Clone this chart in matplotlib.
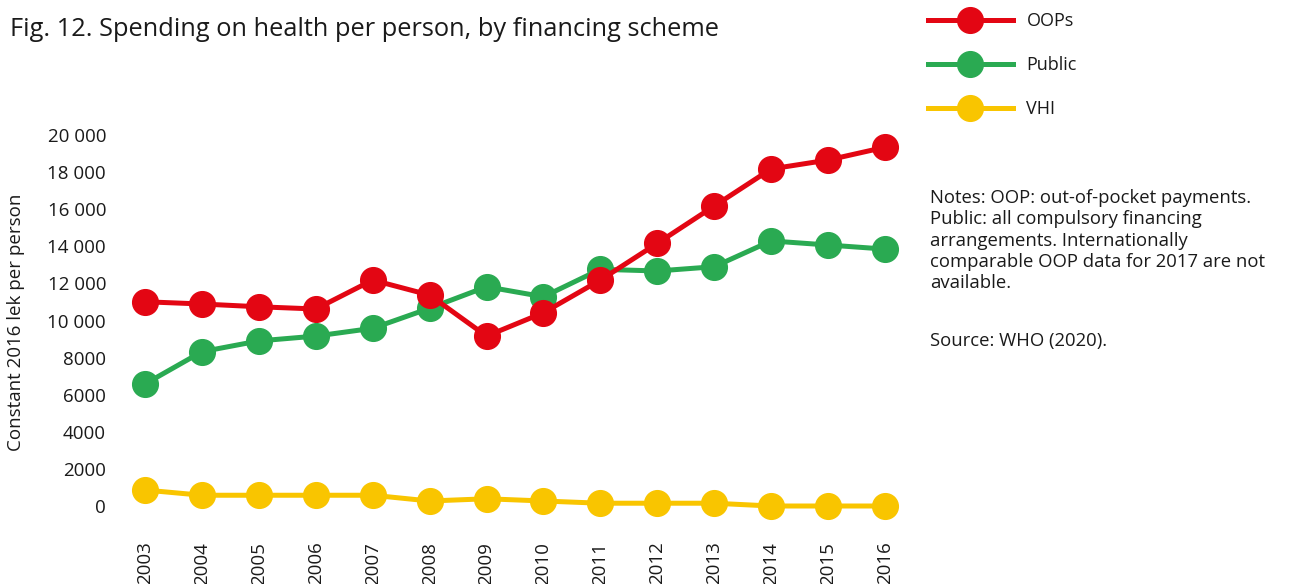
import matplotlib.pyplot as plt
from matplotlib.lines import Line2D
from matplotlib.ticker import FuncFormatter

plt.rcParams['font.family'] = ['Open Sans', 'DejaVu Sans']

years = list(range(2003, 2017))
oops = [11010, 10890, 10740, 10620, 12180, 11370, 9160, 10420, 12180, 14160, 16170, 18170, 18650, 19340]
public = [6580, 8320, 8900, 9160, 9580, 10660, 11820, 11280, 12760, 12670, 12900, 14290, 14070, 13850]
vhi = [860, 580, 580, 580, 580, 270, 390, 270, 150, 150, 150, 0, 0, 0]

series = [("OOPs", oops, "#E30613"), ("Public", public, "#2AAA52"), ("VHI", vhi, "#F9C500")]

W, H = 1292, 584
fig = plt.figure(figsize=(W / 100, H / 100), dpi=100)
ax = fig.add_axes([120 / W, 1 - 525 / H, 790 / W, 405 / H])

# draw OOPs last so its markers sit on top
for name, vals, col in [series[2], series[1], series[0]]:
    ax.plot(years, vals, color=col, lw=3.6, marker='o', ms=18.5,
            solid_joinstyle='round', label=name)

ax.set_xlim(2003 - 0.44, 2016 + 0.44)
ax.set_ylim(-1024, 20809)
ax.set_xticks(years)
ax.set_xticklabels([str(y) for y in years], rotation=90, fontsize=13.5, color='#1a1a1a')
ax.set_yticks(range(0, 20001, 2000))


def fmt(v, pos):
    v = int(v)
    return f"{v:,}".replace(",", " ") if v >= 10000 else str(v)


ax.yaxis.set_major_formatter(FuncFormatter(fmt))
ax.tick_params(axis='y', labelsize=13.5, labelcolor='#1a1a1a', length=0, pad=10)
ax.tick_params(axis='x', length=0, pad=12)
for s in ax.spines.values():
    s.set_visible(False)

fig.text(16 / W, 1 - 322 / H, "Constant 2016 lek per person", rotation=90,
         ha='center', va='center', fontsize=13.5, color='#1a1a1a')
fig.text(10 / W, 1 - 36 / H, "Fig. 12. Spending on health per person, by financing scheme",
         ha='left', va='baseline', fontsize=18.3, color='#1a1a1a')

handles = [Line2D([], [], color=c, lw=3.6, marker='o', ms=18.5) for _, _, c in series]
fig.legend(handles, [n for n, _, _ in series], loc='upper left',
           bbox_to_anchor=(928 / W, 1 - 12 / H), frameon=False, fontsize=13,
           handlelength=4.7, handletextpad=0.75, labelspacing=1.45, borderpad=0,
           borderaxespad=0, labelcolor='#1a1a1a')

notes = ("Notes: OOP: out-of-pocket payments.\nPublic: all compulsory financing\n"
         "arrangements. Internationally\ncomparable OOP data for 2017 are not\navailable.")
fig.text(930 / W, 1 - 189 / H, notes, ha='left', va='top', fontsize=13.3,
         color='#1a1a1a', linespacing=1.24)
fig.text(930 / W, 1 - 332 / H, "Source: WHO (2020).", ha='left', va='top',
         fontsize=13.3, color='#1a1a1a')

fig.savefig("out.png", dpi=100)
